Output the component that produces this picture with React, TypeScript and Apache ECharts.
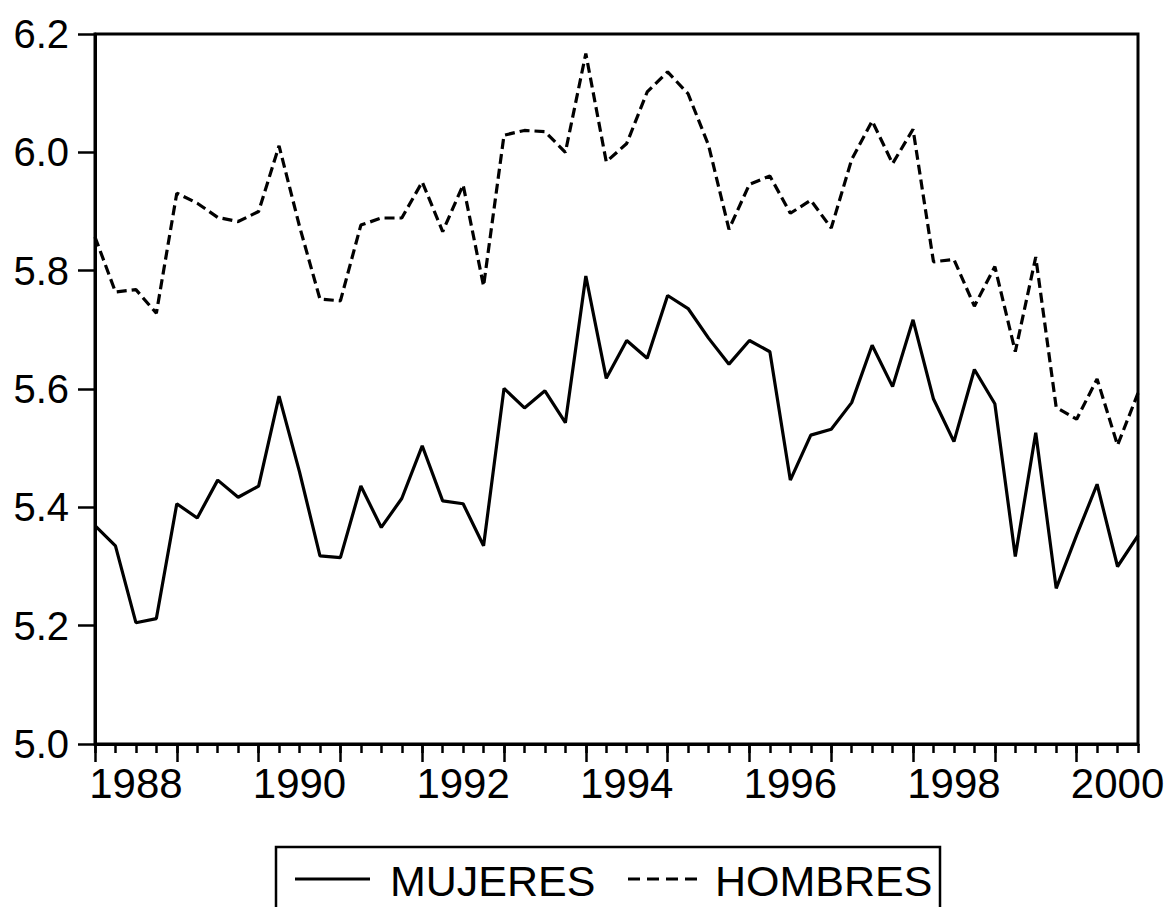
import React, { useEffect, useRef } from "react";
import * as echarts from "echarts";

const years: number[] = [1988, 1989, 1990, 1991, 1992, 1993, 1994, 1995, 1996, 1997, 1998, 1999, 2000];
const quarters: string[] = years.flatMap((y) => ["Q1", "Q2", "Q3", "Q4"].map((q) => `${y}${q}`));

const mujeres: number[] = [
  5.369, 5.335, 5.205, 5.212, 5.406, 5.382, 5.446, 5.417,
  5.436, 5.588, 5.46, 5.318, 5.315, 5.436, 5.366, 5.415,
  5.504, 5.411, 5.406, 5.335, 5.601, 5.568, 5.597, 5.543,
  5.791, 5.618, 5.682, 5.652, 5.758, 5.736, 5.686, 5.642,
  5.682, 5.663, 5.446, 5.522, 5.532, 5.577, 5.674, 5.604,
  5.717, 5.583, 5.511, 5.633, 5.575, 5.317, 5.526, 5.263,
  5.353, 5.439, 5.3, 5.352,
];

const hombres: number[] = [
  5.857, 5.764, 5.768, 5.728, 5.931, 5.914, 5.89, 5.883,
  5.9, 6.011, 5.875, 5.752, 5.749, 5.877, 5.889, 5.889,
  5.95, 5.866, 5.945, 5.774, 6.029, 6.037, 6.035, 6.0,
  6.167, 5.984, 6.015, 6.102, 6.136, 6.099, 6.012, 5.87,
  5.946, 5.96, 5.897, 5.919, 5.872, 5.988, 6.053, 5.981,
  6.039, 5.815, 5.819, 5.74, 5.807, 5.663, 5.823, 5.569,
  5.549, 5.617, 5.505, 5.593,
];

const seriesNames: string[] = ["MUJERES", "HOMBRES"];

const FONT = "Arial, 'Liberation Sans', Helvetica, sans-serif";

export default function App() {
  const ref = useRef<HTMLDivElement>(null);

  useEffect(() => {
    if (!ref.current) return;
    const chart = echarts.init(ref.current, undefined, { renderer: "svg" });
    const option: any = {
      animation: false,
      backgroundColor: "#ffffff",
      grid: {
        left: 95,
        right: 31,
        top: 34,
        bottom: 163,
        show: true,
        borderColor: "#000",
        borderWidth: 3,
        backgroundColor: "transparent",
      },
      xAxis: [
        {
          type: "category",
          data: quarters,
          boundaryGap: false,
          position: "bottom",
          axisLine: { show: true, lineStyle: { color: "#000", width: 3 } },
          axisTick: { show: true, interval: 0, length: 9, lineStyle: { color: "#000", width: 2.5 } },
          axisLabel: {
            show: true,
            interval: (i: number) => i % 8 === 2,
            formatter: (v: string) => v.slice(0, 4),
            fontSize: 42,
            fontFamily: FONT,
            color: "#000",
            margin: 18,
          },
          splitLine: { show: false },
        },
        {
          type: "category",
          data: quarters,
          boundaryGap: false,
          position: "bottom",
          axisLine: { show: false },
          axisTick: {
            show: true,
            interval: (i: number) => i % 4 === 0,
            length: 18,
            lineStyle: { color: "#000", width: 2.5 },
          },
          axisLabel: { show: false },
          splitLine: { show: false },
        },
      ],
      yAxis: {
        type: "value",
        min: 5.0,
        max: 6.2,
        interval: 0.2,
        axisLine: { show: true, lineStyle: { color: "#000", width: 3 } },
        axisTick: { show: true, length: 17, lineStyle: { color: "#000", width: 2.5 } },
        axisLabel: {
          formatter: (v: number) => v.toFixed(1),
          fontSize: 40,
          fontFamily: FONT,
          color: "#000",
          margin: 26,
        },
        splitLine: { show: false },
      },
      series: [
        {
          name: seriesNames[0],
          type: "line",
          data: mujeres,
          symbol: "none",
          lineStyle: { color: "#000", width: 3.2, type: "solid" },
        },
        {
          name: seriesNames[1],
          type: "line",
          data: hombres,
          symbol: "none",
          lineStyle: { color: "#000", width: 3.2, type: [10, 5] },
        },
      ],
      graphic: [
        {
          type: "rect",
          shape: { x: 276, y: 847, width: 664, height: 120 },
          style: { fill: "none", stroke: "#000", lineWidth: 2.5 },
        },
        {
          type: "line",
          shape: { x1: 295, y1: 879, x2: 370, y2: 879 },
          style: { stroke: "#000", lineWidth: 3 },
        },
        {
          type: "text",
          x: 390,
          y: 881,
          style: {
            text: seriesNames[0],
            fontSize: 43,
            fontFamily: FONT,
            fill: "#000",
            verticalAlign: "middle",
            align: "left",
          },
        },
        {
          type: "line",
          shape: { x1: 628, y1: 879, x2: 699, y2: 879 },
          style: { stroke: "#000", lineWidth: 3, lineDash: [12, 7] },
        },
        {
          type: "text",
          x: 715,
          y: 881,
          style: {
            text: seriesNames[1],
            fontSize: 43,
            fontFamily: FONT,
            fill: "#000",
            verticalAlign: "middle",
            align: "left",
          },
        },
      ],
    };
    chart.setOption(option);
    return () => chart.dispose();
  }, []);

  return (
    <div
      ref={ref}
      style={{ position: "absolute", left: 0, top: 0, width: 1169, height: 907, background: "#fff", overflow: "hidden" }}
    />
  );
}
